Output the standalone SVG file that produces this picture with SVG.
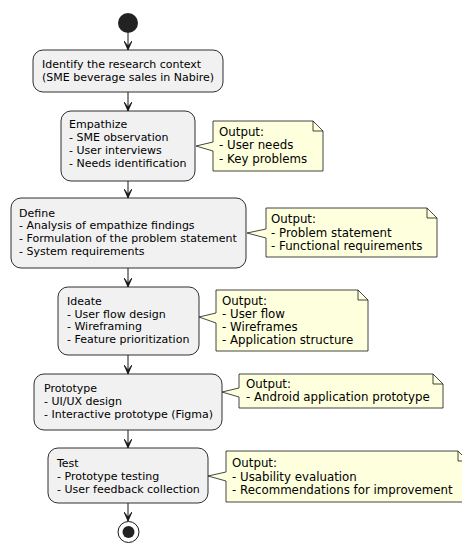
<svg xmlns="http://www.w3.org/2000/svg" width="462" height="543" viewBox="0 0 462 543">
<defs>
<style>
.box{fill:#F1F1F1;stroke:#181818;stroke-width:0.9}
.note{fill:#FEFFDD;stroke:#181818;stroke-width:0.8}
.fold{fill:none;stroke:#181818;stroke-width:0.8}
.t{font-family:"DejaVu Sans",sans-serif;font-size:11px;fill:#000}
.n{font-family:"DejaVu Sans",sans-serif;font-size:11.8px;fill:#000}
.edge{stroke:#181818;stroke-width:1;fill:none}
</style>
<marker id="ah" viewBox="0 0 10 8" refX="9" refY="4" markerWidth="10" markerHeight="8" markerUnits="userSpaceOnUse" orient="auto">
<path d="M0,0 L9,4 L0,8 L5,4 Z" fill="#181818" stroke="#181818" stroke-width="0.8"/>
</marker>
</defs>
<rect width="462" height="543" fill="#FFFFFF"/>
<g id="connectors">
<line class="edge" x1="128" y1="33" x2="128" y2="50" marker-end="url(#ah)"/>
<line class="edge" x1="128" y1="92" x2="128" y2="111" marker-end="url(#ah)"/>
<line class="edge" x1="128" y1="181" x2="128" y2="198" marker-end="url(#ah)"/>
<line class="edge" x1="128" y1="268" x2="128" y2="287" marker-end="url(#ah)"/>
<line class="edge" x1="128" y1="355" x2="128" y2="374" marker-end="url(#ah)"/>
<line class="edge" x1="128" y1="430" x2="128" y2="448" marker-end="url(#ah)"/>
<line class="edge" x1="128" y1="503" x2="128" y2="521" marker-end="url(#ah)"/>
</g>
<g id="start"><circle cx="128" cy="23" r="10" fill="#222222"/></g>
<g id="identify">
<rect class="box" x="33" y="50" width="190" height="42" rx="10"/>
<text class="t" x="42" y="67.5">Identify the research context</text>
<text class="t" x="42" y="80.5">(SME beverage sales in Nabire)</text>
</g>
<g id="empathize">
<rect class="box" x="61" y="111" width="134" height="70" rx="10"/>
<text class="t" x="69" y="128">Empathize</text>
<text class="t" x="69" y="141">- SME observation</text>
<text class="t" x="69" y="153.5">- User interviews</text>
<text class="t" x="69" y="166.5">- Needs identification</text>
</g>
<g id="note-empathize">
<path class="note" d="M213,121 L313,121 L323,131 L323,171 L213,171 L213,151 L196,146 L213,142 Z"/>
<path class="fold" d="M313,121 L313,131 L323,131"/>
<text class="n" x="219" y="135.5">Output:</text>
<text class="n" x="219" y="149">- User needs</text>
<text class="n" x="219" y="162.5">- Key problems</text>
</g>
<g id="define">
<rect class="box" x="11" y="198" width="235" height="70" rx="10"/>
<text class="t" x="19" y="216.5">Define</text>
<text class="t" x="19" y="229.3">- Analysis of empathize findings</text>
<text class="t" x="19" y="242">- Formulation of the problem statement</text>
<text class="t" x="19" y="254.6">- System requirements</text>
</g>
<g id="note-define">
<path class="note" d="M266,208 L427,208 L437,218 L437,257 L266,257 L266,238 L247,233 L266,229 Z"/>
<path class="fold" d="M427,208 L427,218 L437,218"/>
<text class="n" x="271" y="223">Output:</text>
<text class="n" x="271" y="236.5">- Problem statement</text>
<text class="n" x="271" y="250">- Functional requirements</text>
</g>
<g id="ideate">
<rect class="box" x="58" y="287" width="141" height="68" rx="10"/>
<text class="t" x="67" y="305">Ideate</text>
<text class="t" x="67" y="317.7">- User flow design</text>
<text class="t" x="67" y="330.3">- Wireframing</text>
<text class="t" x="67" y="343">- Feature prioritization</text>
</g>
<g id="note-ideate">
<path class="note" d="M216,290 L358,290 L368,300 L368,351 L216,351 L216,323 L199,317 L216,313 Z"/>
<path class="fold" d="M358,290 L358,300 L368,300"/>
<text class="n" x="222" y="304.5">Output:</text>
<text class="n" x="222" y="317.7">- User flow</text>
<text class="n" x="222" y="331">- Wireframes</text>
<text class="n" x="222" y="344.3">- Application structure</text>
</g>
<g id="prototype">
<rect class="box" x="34" y="374" width="188" height="56" rx="10"/>
<text class="t" x="44" y="392">Prototype</text>
<text class="t" x="44" y="404.8">- UI/UX design</text>
<text class="t" x="44" y="417.5">- Interactive prototype (Figma)</text>
</g>
<g id="note-prototype">
<path class="note" d="M239,374 L433,374 L443,384 L443,408 L239,408 L239,397 L222,392 L239,388 Z"/>
<path class="fold" d="M433,374 L433,384 L443,384"/>
<text class="n" x="246" y="387.5">Output:</text>
<text class="n" x="246" y="400.5">- Android application prototype</text>
</g>
<g id="test">
<rect class="box" x="48" y="448" width="160" height="55" rx="10"/>
<text class="t" x="57" y="467">Test</text>
<text class="t" x="57" y="479.8">- Prototype testing</text>
<text class="t" x="57" y="492.5">- User feedback collection</text>
</g>
<g id="note-test">
<path class="note" d="M226,451 L458,451 L468,461 L468,502 L226,502 L226,481 L208,476 L226,472 Z"/>
<path class="fold" d="M458,451 L458,461 L468,461"/>
<text class="n" x="232" y="466.7">Output:</text>
<text class="n" x="232" y="480.5">- Usability evaluation</text>
<text class="n" x="232" y="494">- Recommendations for improvement</text>
</g>
<g id="end">
<circle cx="128.5" cy="532" r="10.5" fill="#FFFFFF" stroke="#181818" stroke-width="1"/>
<circle cx="128.5" cy="532" r="6" fill="#222222"/>
</g>
</svg>
